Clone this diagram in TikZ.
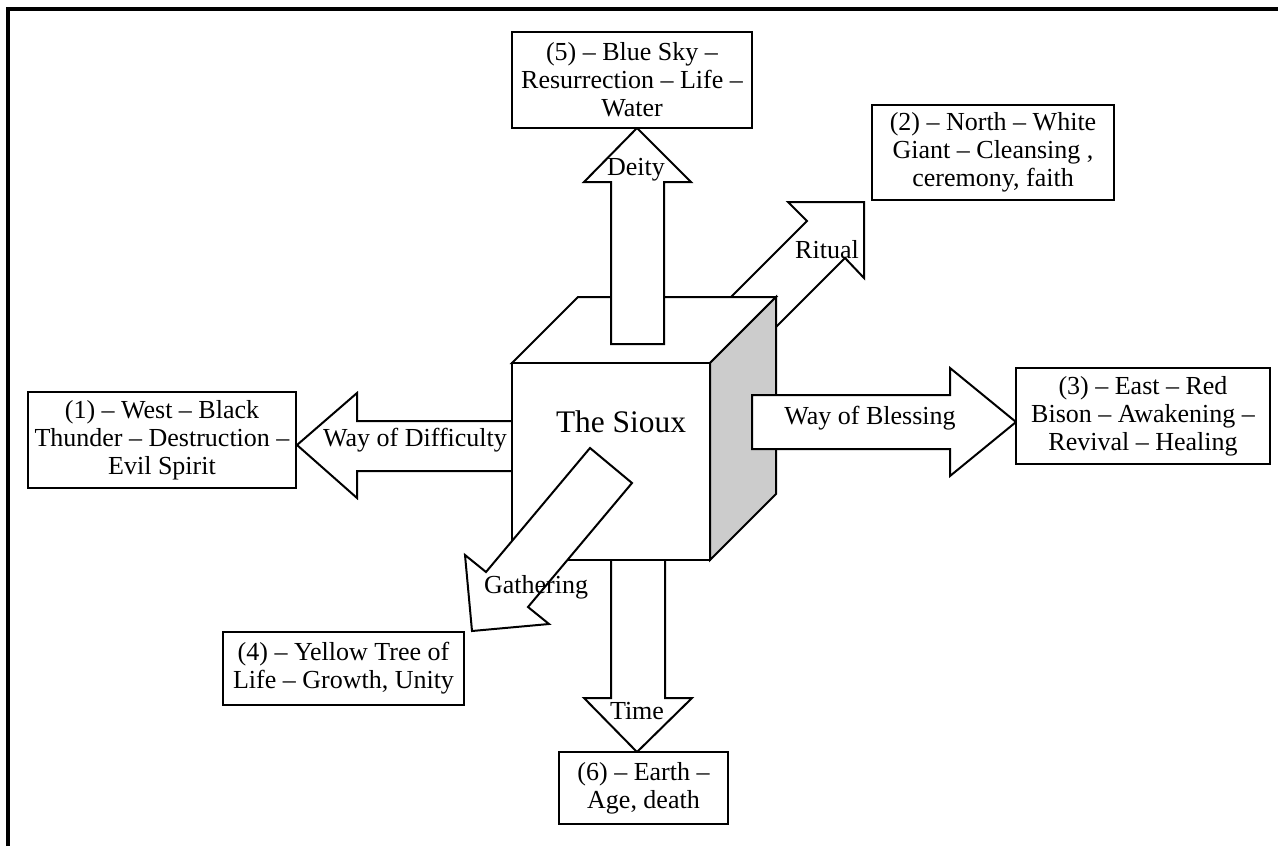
\documentclass[tikz,border=0pt]{standalone}
\usepackage{fontspec}
\setmainfont{Liberation Serif}
\usepackage{tikz}

\begin{document}
\begin{tikzpicture}[x=0.5pt,y=-0.5pt,
        every node/.style={font=\fontsize{13}{14}\selectfont},
        box/.style={draw=black,line width=1pt,fill=white,inner sep=0pt,align=center},
        blockarrow/.style={draw=black,line width=1pt,fill=white,line join=miter},
        lbl/.style={inner sep=0pt}]
        \useasboundingbox (0,0) rectangle (1278,846);

        % frame
        \draw [line width=2pt] (8,846) -- (8,8.5) -- (1278,8.5);

        % arrows behind the cube
        \draw [blockarrow] (680,348) -- (807,221) -- (788,202) -- (864,202) -- (864,278) -- (845,258) -- (717.5,385.5) -- cycle;
        \draw [blockarrow] (611,540) -- (611,698) -- (584,698) -- (637,752) -- (692,698) -- (665,698) -- (665,540) -- cycle;
        \draw [blockarrow] (530,421) -- (357,421) -- (357,393) -- (297,445) -- (357,498) -- (357,471) -- (530,471) -- cycle;

        % cube
        \draw [line width=1pt,fill=white,line join=miter] (512,363) -- (578,297) -- (776,297) -- (710,363) -- cycle;
        \draw [line width=1pt,fill=white] (512,363) rectangle (710,560);
        \draw [line width=1pt,fill=black!20,line join=miter] (710,363) -- (776,297) -- (776,494) -- (710,560) -- cycle;

        % arrows in front of the cube
        \draw [blockarrow] (611,344) -- (611,182) -- (584,182) -- (637,128) -- (691,182) -- (664,182) -- (664,344) -- cycle;
        \draw [blockarrow] (752,395) -- (950,395) -- (950,368) -- (1016,422) -- (950,476) -- (950,449) -- (752,449) -- cycle;
        \draw [blockarrow] (590,448) -- (486,572) -- (465,555) -- (472,631) -- (549,624) -- (528,607) -- (632,483) -- cycle;

        % boxes
        \node [box,minimum width=120pt,minimum height=48pt] (sky) at (632,80) {(5) – Blue Sky –\\Resurrection – Life –\\Water};
        \node [box,minimum width=121pt,minimum height=47.5pt] (north) at (993,152.5) {(2) – North – White\\Giant – Cleansing ,\\ceremony, faith};
        \node [box,minimum width=127pt,minimum height=48pt] (east) at (1143,416) {(3) – East – Red\\Bison – Awakening –\\Revival – Healing};
        \node [box,minimum width=134pt,minimum height=48pt] (west) at (162,440) {(1) – West – Black\\Thunder – Destruction –\\Evil Spirit};
        \node [box,minimum width=120.5pt,minimum height=36.5pt] (tree) at (343.5,668.5) {(4) – Yellow Tree of\\Life – Growth, Unity};
        \node [box,minimum width=84.5pt,minimum height=36pt] (earth) at (643.5,788) {(6) – Earth –\\Age, death};

        % labels
        \node [lbl,font=\fontsize{15.7}{18}\selectfont] (sioux) at (621,422) {The Sioux};
        \node [lbl] (deity) at (636,170) {Deity};
        \node [lbl] (ritual) at (827,250) {Ritual};
        \node [lbl] (blessing) at (870,418) {Way of Blessing};
        \node [lbl] (difficulty) at (415,440) {Way of Difficulty};
        \node [lbl] (gathering) at (536,587) {Gathering};
        \node [lbl] (time) at (637,711) {Time};
    \end{tikzpicture}
\end{document}
